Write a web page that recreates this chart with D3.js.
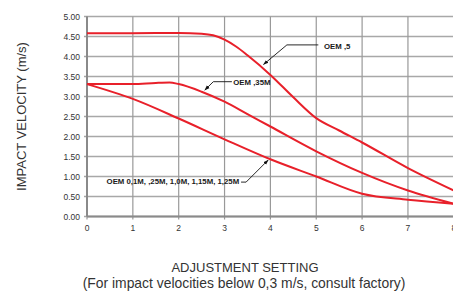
<!DOCTYPE html>
<html>
<head>
	<meta charset="utf-8">
	<title>Impact velocity</title>
	<script src="https://d3js.org/d3.v7.min.js"></script>
	<style>
		body { margin: 0; background: #fff; }
		text { font-family: 'Liberation Sans', Arial, sans-serif; }
	</style>
</head>
<body>
	<div class="chart"></div>

	<script type="text/javascript">

		// adjustment settings (x) and impact velocities (m/s)
		const oem5X = [0, 1, 2, 2.5, 2.75, 3, 3.25, 3.5, 4, 4.5, 5, 5.5, 6, 7, 8]
		const oem5Y = [4.58, 4.58, 4.59, 4.57, 4.53, 4.42, 4.25, 4.03, 3.54, 2.98, 2.46, 2.15, 1.85, 1.21, 0.65]

		const oem35X = [0, 1, 1.5, 1.8, 2, 2.5, 3, 3.5, 4, 5, 6, 7, 8]
		const oem35Y = [3.31, 3.31, 3.34, 3.35, 3.31, 3.12, 2.87, 2.56, 2.25, 1.63, 1.09, 0.65, 0.32]

		const oemSmallX = [0, 1, 2, 3, 4, 5, 6, 7, 8]
		const oemSmallY = [3.31, 2.94, 2.45, 1.93, 1.43, 1.0, 0.57, 0.42, 0.32]

		const xTicks = [0, 1, 2, 3, 4, 5, 6, 7, 8]
		const yTicks = [0, 0.5, 1, 1.5, 2, 2.5, 3, 3.5, 4, 4.5, 5]

		// labels: text, text anchor point, leader line points (data units)
		const labels = [
			{ text: 'OEM ,5', anchor: 'start', at: [5.17, 4.2], line: [[5.045, 4.29], [4.36, 4.29], [3.85, 3.8]] },
			{ text: 'OEM ,35M', anchor: 'start', at: [3.19, 3.3], line: [[3.16, 3.37], [2.755, 3.37], [2.57, 3.16]] },
			{ text: 'OEM 0,1M, ,25M, 1,0M, 1,15M, 1,25M', anchor: 'end', at: [3.32, 0.81], line: [[3.36, 0.86], [3.47, 0.86], [3.95, 1.41]] }
		]

		const width = 453
		const height = 291

		const svg = d3.select('.chart')
			.append('svg')
			.attr('width', width)
			.attr('height', height)

		const x = d3.scaleLinear().domain([0, 8]).range([87, 453.8])
		const y = d3.scaleLinear().domain([0, 5]).range([216.5, 16.5])

		// grid
		svg.append('g')
			.selectAll('line')
			.data(yTicks)
			.join('line')
			.attr('x1', x(0) - 3)
			.attr('x2', x(8))
			.attr('y1', d => y(d))
			.attr('y2', d => y(d))
			.attr('stroke', '#a8a8a8')
			.attr('stroke-width', 1.4)

		svg.append('g')
			.selectAll('line')
			.data(xTicks)
			.join('line')
			.attr('x1', d => x(d))
			.attr('x2', d => x(d))
			.attr('y1', y(5))
			.attr('y2', y(0) + 3)
			.attr('stroke', '#999')
			.attr('stroke-width', 1.2)

		// axis lines
		svg.append('line')
			.attr('x1', x(0)).attr('x2', x(0))
			.attr('y1', y(5)).attr('y2', y(0))
			.attr('stroke', '#8a8a8a').attr('stroke-width', 2)
		svg.append('line')
			.attr('x1', x(0)).attr('x2', x(8))
			.attr('y1', y(0)).attr('y2', y(0))
			.attr('stroke', '#8a8a8a').attr('stroke-width', 2)

		// tick labels
		svg.append('g')
			.selectAll('text')
			.data(yTicks)
			.join('text')
			.attr('x', 80)
			.attr('y', d => y(d) + 3)
			.attr('text-anchor', 'end')
			.attr('font-size', 8.5)
			.attr('fill', '#333')
			.text(d => d.toFixed(2))

		svg.append('g')
			.selectAll('text')
			.data(xTicks)
			.join('text')
			.attr('x', d => x(d))
			.attr('y', 231)
			.attr('text-anchor', 'middle')
			.attr('font-size', 8.5)
			.attr('fill', '#333')
			.text(d => d)

		// curves
		const line = d3.line()
			.x(d => x(d[0]))
			.y(d => y(d[1]))
			.curve(d3.curveMonotoneX)

		const series = [
			d3.zip(oem5X, oem5Y),
			d3.zip(oem35X, oem35Y),
			d3.zip(oemSmallX, oemSmallY)
		]

		svg.append('g')
			.selectAll('path')
			.data(series)
			.join('path')
			.attr('d', line)
			.attr('fill', 'none')
			.attr('stroke', '#e8202a')
			.attr('stroke-width', 2)

		// arrow marker
		svg.append('defs')
			.append('marker')
			.attr('id', 'arrow')
			.attr('viewBox', '0 0 10 10')
			.attr('refX', 9)
			.attr('refY', 5)
			.attr('markerWidth', 6)
			.attr('markerHeight', 6)
			.attr('orient', 'auto')
			.append('path')
			.attr('d', 'M0,1.5L10,5L0,8.5Z')
			.attr('fill', '#111')

		const leader = d3.line().x(d => x(d[0])).y(d => y(d[1]))

		const ann = svg.append('g')
		ann.selectAll('path')
			.data(labels)
			.join('path')
			.attr('d', d => leader(d.line))
			.attr('fill', 'none')
			.attr('stroke', '#111')
			.attr('stroke-width', 0.9)
			.attr('marker-end', 'url(#arrow)')

		ann.selectAll('text')
			.data(labels)
			.join('text')
			.attr('x', d => x(d.at[0]))
			.attr('y', d => y(d.at[1]))
			.attr('text-anchor', d => d.anchor)
			.attr('font-size', 7.8)
			.attr('font-weight', 'bold')
			.attr('fill', '#1a1a1a')
			.text(d => d.text)

		// axis titles
		svg.append('text')
			.attr('transform', 'translate(26, 116.5) rotate(-90)')
			.attr('text-anchor', 'middle')
			.attr('font-size', 13)
			.attr('fill', '#333')
			.text('IMPACT VELOCITY (m/s)')

		svg.append('text')
			.attr('x', 245)
			.attr('y', 272)
			.attr('text-anchor', 'middle')
			.attr('font-size', 13)
			.attr('fill', '#333')
			.text('ADJUSTMENT SETTING')

		svg.append('text')
			.attr('x', 244)
			.attr('y', 287.5)
			.attr('text-anchor', 'middle')
			.attr('font-size', 13.9)
			.attr('fill', '#333')
			.text('(For impact velocities below 0,3 m/s, consult factory)')
	</script>
</body>
</html>
